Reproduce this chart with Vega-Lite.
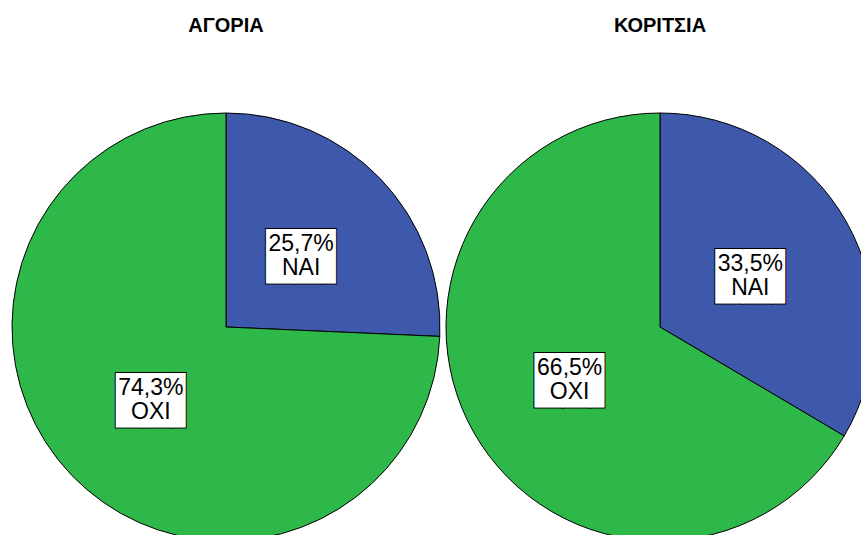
{
  "$schema": "https://vega.github.io/schema/vega-lite/v6.json",
  "padding": {"left": 10, "top": 16, "right": 0, "bottom": 0},
  "background": "white",
  "data": {
    "values": [
      {"group": "ΑΓΟΡΙΑ", "answer": "ΝΑΙ", "pct": 25.7, "label": "25,7%\nΝΑΙ"},
      {"group": "ΑΓΟΡΙΑ", "answer": "ΟΧΙ", "pct": 74.3, "label": "74,3%\nΟΧΙ"},
      {"group": "ΚΟΡΙΤΣΙΑ", "answer": "ΝΑΙ", "pct": 33.5, "label": "33,5%\nΝΑΙ"},
      {"group": "ΚΟΡΙΤΣΙΑ", "answer": "ΟΧΙ", "pct": 66.5, "label": "66,5%\nΟΧΙ"}
    ]
  },
  "facet": {
    "column": {
      "field": "group",
      "type": "nominal",
      "title": null,
      "header": {
        "labelFont": "Liberation Sans",
        "labelFontWeight": "bold",
        "labelFontSize": 20,
        "labelColor": "black",
        "labelBaseline": "alphabetic",
        "labelPadding": 59
      }
    }
  },
  "spacing": 2,
  "spec": {
    "width": 428,
    "height": 428,
    "view": {"stroke": null},
    "layer": [
      {
        "mark": {"type": "arc", "stroke": "black", "strokeWidth": 1},
        "encoding": {
          "theta": {"field": "pct", "type": "quantitative", "stack": true},
          "color": {
            "field": "answer",
            "type": "nominal",
            "scale": {"domain": ["ΝΑΙ", "ΟΧΙ"], "range": ["#3E58AC", "#2EB84A"]},
            "legend": null
          },
          "order": {"field": "answer", "sort": "ascending"}
        }
      },
      {
        "mark": {"type": "text", "radius": 104, "font": "DejaVu Sans Mono", "fontSize": 46, "fill": "white", "stroke": "black", "strokeWidth": 2, "baseline": "middle", "align": "center", "dx": 7, "dy": 3},
        "encoding": {
          "theta": {"field": "pct", "type": "quantitative", "stack": true},
          "detail": {"field": "answer", "type": "nominal"},
          "order": {"field": "answer", "sort": "ascending"},
          "text": {"value": "██▌"}
        }
      },
      {
        "mark": {"type": "text", "radius": 104, "font": "DejaVu Sans Mono", "fontSize": 46, "fill": "white", "baseline": "middle", "align": "center", "dx": 7, "dy": 3},
        "encoding": {
          "theta": {"field": "pct", "type": "quantitative", "stack": true},
          "detail": {"field": "answer", "type": "nominal"},
          "order": {"field": "answer", "sort": "ascending"},
          "text": {"value": "██▌"}
        }
      },
      {
        "mark": {"type": "text", "radius": 104, "font": "Liberation Sans", "fontSize": 23, "lineHeight": 24, "lineBreak": "\n", "fill": "black", "baseline": "middle", "align": "center", "dy": -11},
        "encoding": {
          "theta": {"field": "pct", "type": "quantitative", "stack": true},
          "detail": {"field": "answer", "type": "nominal"},
          "order": {"field": "answer", "sort": "ascending"},
          "text": {"field": "label", "type": "nominal"}
        }
      }
    ]
  }
}
